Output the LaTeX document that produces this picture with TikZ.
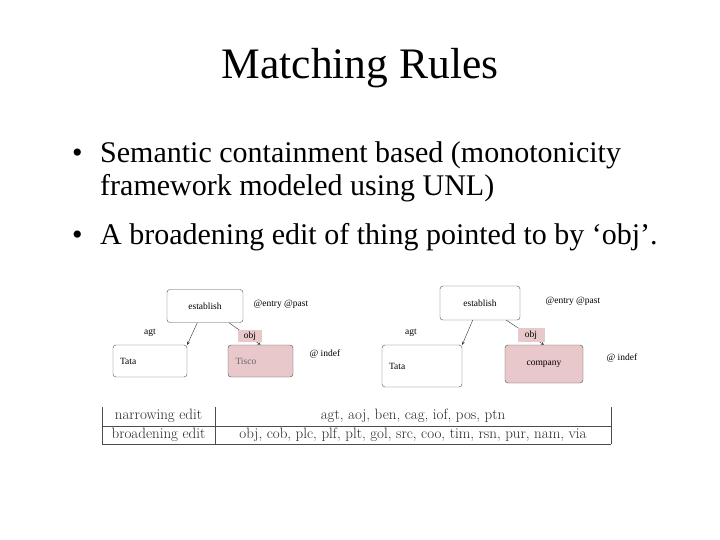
\documentclass[tikz,border=0pt]{standalone}
\usepackage{fontspec}
\newfontfamily\tnr{Liberation Serif}
\definecolor{pinkish}{RGB}{232,200,202}
\begin{document}
\begin{tikzpicture}[x=1pt,y=-1pt,
 box/.style={draw=black!70,rounded corners=3pt,thin},
 hl/.style={fill=pinkish},
 sm/.style={font=\tnr\fontsize{9.5}{10}\selectfont},
 tb/.style={font=\fontsize{15}{15}\selectfont,text=black!85,inner sep=0pt},
 arr/.style={->,>=stealth,thin,black!80}]
\useasboundingbox (0,0) rectangle (720,540);
\node[font=\tnr\fontsize{43.5}{45}\selectfont] (title) at (360,68) {Matching Rules};
\begin{scope}[font=\tnr\fontsize{30}{32}\selectfont,inner sep=0pt]
\node[anchor=base west] (b1) at (72,163) {•};
\node[anchor=base west] (t1) at (100,163) {Semantic containment based (monotonicity};
\node[anchor=base west] (t2) at (100,196) {framework modeled using UNL)};
\node[anchor=base west] (b2) at (72,244) {•};
\node[anchor=base west] (t3) at (100,244) {A broadening edit of thing pointed to by ‘obj’.};
\end{scope}
% left graph
\node[box,sm,minimum width=76,minimum height=33] (e1) at (205,306) {establish};
\node[box,sm,minimum width=74,minimum height=32,text width=60,align=left] (ta1) at (150,361) {Tata};
\node[box,hl,sm,minimum width=65,minimum height=32,text width=50,align=left,text=black!60] (ti1) at (260.5,361) {Tisco};
\draw[arr] (e1) -- (ta1.north east);
\draw[arr] (e1) -- (ti1.north);
\node[hl,sm,minimum width=24,minimum height=12,inner sep=1pt] (o1) at (250,336) {obj};
\node[sm] (a1) at (150,333) {agt};
\node[sm,anchor=west] (p1) at (250,304) {@entry @past};
\node[sm,anchor=west] (i1) at (306,354) {@ indef};
% right graph
\node[box,sm,minimum width=80,minimum height=34] (e2) at (480,303) {establish};
\node[box,sm,minimum width=80,minimum height=42,text width=66,align=left] (ta2) at (422,366) {Tata};
\node[box,hl,sm,minimum width=78,minimum height=38] (co2) at (544,364) {company};
\draw[arr] (e2) -- (ta2.north east);
\draw[arr] (e2) -- (co2.north);
\node[hl,sm,minimum width=27,minimum height=14,inner sep=1pt] (o2) at (531,335) {obj};
\node[sm] (a2) at (411,333) {agt};
\node[sm,anchor=west] (p2) at (542,301) {@entry @past};
\node[sm,anchor=west] (i2) at (603,358) {@ indef};
% table
\coordinate (tl) at (102,407); \coordinate (tr) at (611,407);
\coordinate (bl) at (102,444); \coordinate (br) at (611,444);
\draw[black!70] (tl) -- (bl) (tr) -- (br) (215,407) -- (215,444)
 (102,426) -- (611,426) (bl) -- (br);
\node[tb] (n1) at (158.5,416) {narrowing edit};
\node[tb] (n2) at (158.5,435) {broadening edit};
\node[tb] (r1) at (413,416) {agt, aoj, ben, cag, iof, pos, ptn};
\node[tb] (r2) at (413,435) {obj, cob, plc, plf, plt, gol, src, coo, tim, rsn, pur, nam, via};
\end{tikzpicture}
\end{document}
